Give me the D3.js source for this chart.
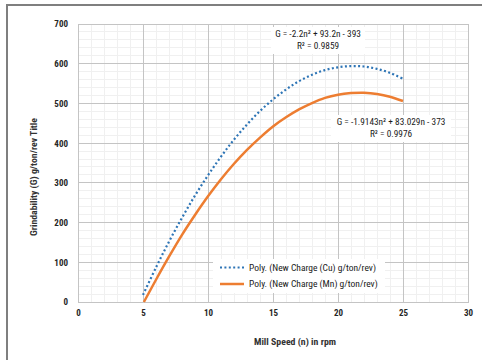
<!DOCTYPE html>
<html><head><meta charset="utf-8">
<script src="https://cdn.jsdelivr.net/npm/d3@7"></script>
<style>
body{margin:0;background:#fff;}
text{font-family:"Liberation Sans Narrow","Arial Narrow","Roboto Condensed",sans-serif;}
</style></head><body>
<svg id="c" width="482" height="360"></svg>
<script>
// Data (trendline values at each rpm)
const speeds = [5,6,7,8,9,10,11,12,13,14,15,16,17,18,19,20,21,22,23,24,25];
const cuValues = [18,87,152,212,268,319,366,409,447,481,510,535,556,572,584,591,594,593,587,577,562];
const mnSpeeds = [5.07,6,7,8,9,10,11,12,13,14,15,16,17,18,19,20,21,22,23,24,25];
const mnValues = [0,56,114,169,219,266,309,348,383,414,442,465,485,501,514,522,526,527,524,517,506];
const xTicks = [0,5,10,15,20,25,30];
const yTicks = [0,100,200,300,400,500,600,700];
const seriesNames = ["Poly. (New Charge (Cu) g/ton/rev)","Poly. (New Charge (Mn) g/ton/rev)"];
const eqCu = ["G = -2.2n² + 93.2n - 393","R² = 0.9859"];
const eqMn = ["G = -1.9143n² + 83.029n - 373","R² = 0.9976"];
const xTitle = "Mill Speed (n) in rpm";
const yTitle = "Grindability (G) g/ton/rev Title";

const svg = d3.select("#c");
// outer frame
svg.append("rect").attr("x",7).attr("y",5).attr("width",500).attr("height",400)
  .attr("fill","#fff").attr("stroke","#7f7f7f").attr("stroke-width",2);

const L=78,R=468,T=24,B=302;
const x = d3.scaleLinear().domain([0,30]).range([L,R]);
const y = d3.scaleLinear().domain([0,700]).range([B,T]);

// minor grid
const g = svg.append("g");
g.selectAll(".mx").data(d3.range(0,31,1)).join("line")
  .attr("x1",d=>x(d)).attr("x2",d=>x(d)).attr("y1",T).attr("y2",B)
  .attr("stroke","#f0f0f0").attr("stroke-width",1).attr("shape-rendering","crispEdges");
g.selectAll(".my").data(d3.range(0,701,20)).join("line")
  .attr("y1",d=>y(d)).attr("y2",d=>y(d)).attr("x1",L).attr("x2",R)
  .attr("stroke","#f0f0f0").attr("stroke-width",1).attr("shape-rendering","crispEdges");
// major grid
g.selectAll(".Mx").data(xTicks).join("line")
  .attr("x1",d=>x(d)).attr("x2",d=>x(d)).attr("y1",T).attr("y2",B)
  .attr("stroke","#c4c4c4").attr("stroke-width",1).attr("shape-rendering","crispEdges");
g.selectAll(".My").data(yTicks).join("line")
  .attr("y1",d=>y(d)).attr("y2",d=>y(d)).attr("x1",L).attr("x2",R)
  .attr("stroke","#c4c4c4").attr("stroke-width",1).attr("shape-rendering","crispEdges");
svg.append("rect").attr("x",L).attr("y",T).attr("width",R-L).attr("height",B-T)
  .attr("fill","none").attr("stroke","#c4c4c4").attr("shape-rendering","crispEdges");

// axes
const xAxis = d3.axisBottom(x).tickValues(xTicks).tickSize(0).tickPadding(8);
const yAxis = d3.axisLeft(y).tickValues(yTicks).tickSize(0).tickPadding(10);
const gx = svg.append("g").attr("transform",`translate(0,${B})`).call(xAxis);
const gy = svg.append("g").attr("transform",`translate(${L},0)`).call(yAxis);
[gx,gy].forEach(a=>{a.select(".domain").remove();
  a.selectAll("text").attr("font-family",null).attr("font-size",9).attr("font-weight","bold").attr("fill","#262626");});

// lines
const line = d3.line().x(d=>x(d[0])).y(d=>y(d[1])).curve(d3.curveCatmullRom);
svg.append("path").datum(speeds.map((s,i)=>[s,cuValues[i]]))
  .attr("d",line).attr("fill","none").attr("stroke","#2e75b6").attr("stroke-width",2.2)
  .attr("stroke-dasharray","2,2.4");
svg.append("path").datum(mnSpeeds.map((s,i)=>[s,mnValues[i]]))
  .attr("d",line).attr("fill","none").attr("stroke","#ed7d31").attr("stroke-width",2.5);

// equation labels
function eq(lines,cx,cy,w){
  svg.append("rect").attr("x",cx-w/2).attr("y",cy-13).attr("width",w).attr("height",27).attr("fill","#fff");
  lines.forEach((t,i)=>svg.append("text").attr("x",cx).attr("y",cy-3+i*11.5)
    .attr("text-anchor","middle").attr("font-size",9.3).attr("fill","#1a1a1a").text(t));
}
eq(eqCu,318,40,94);
eq(eqMn,391,128,120);

// legend
svg.append("rect").attr("x",213).attr("y",259).attr("width",172).attr("height",34).attr("fill","#fff");
[0,1].forEach(i=>{
  const yy = 267.5 + i*16.5;
  svg.append("line").attr("x1",220).attr("x2",244).attr("y1",yy).attr("y2",yy)
    .attr("stroke",i?"#ed7d31":"#2e75b6").attr("stroke-width",i?2.5:2.2)
    .attr("stroke-dasharray",i?null:"2,2.4");
  svg.append("text").attr("x",249).attr("y",yy+3.2).attr("font-size",9.5).attr("fill","#1a1a1a").text(seriesNames[i]);
});

// titles
svg.append("text").attr("x",295).attr("y",345).attr("text-anchor","middle")
  .attr("font-size",9.8).attr("font-weight","bold").attr("fill","#333").text(xTitle);
svg.append("text").attr("transform","translate(37,177) rotate(-90)").attr("text-anchor","middle")
  .attr("font-size",9.8).attr("font-weight","bold").attr("fill","#333").text(yTitle);
</script></body></html>
